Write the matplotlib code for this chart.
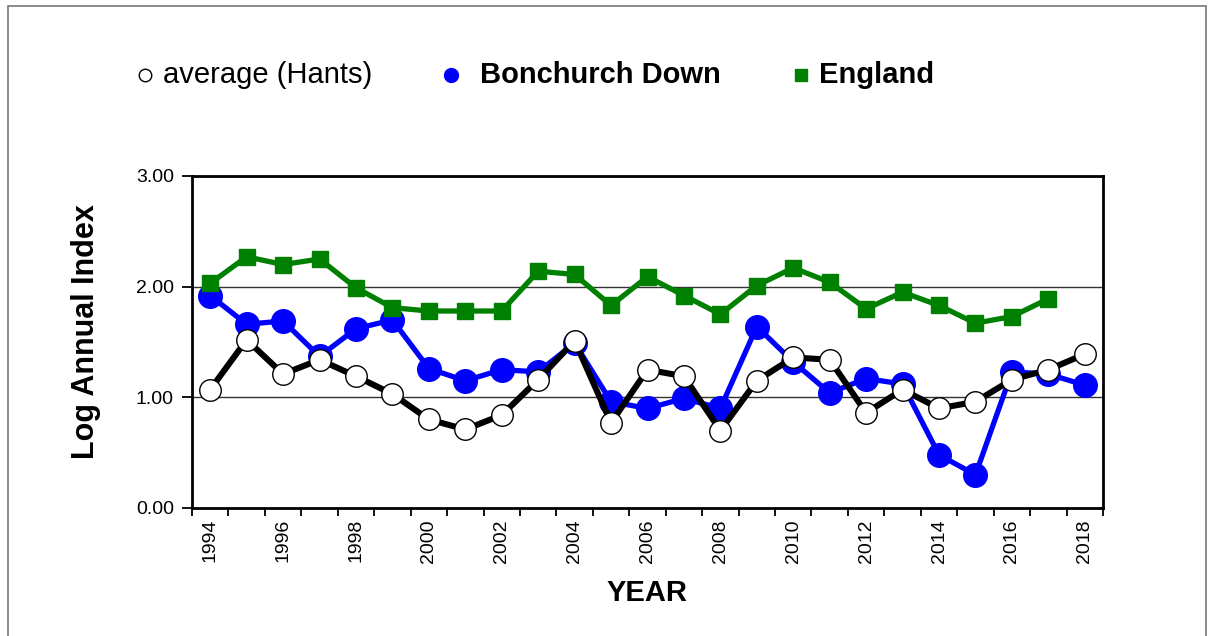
import numpy as np
import matplotlib.pyplot as plt
from matplotlib.lines import Line2D
from matplotlib.patches import Rectangle

plt.rcParams['font.family'] = ['Liberation Sans', 'DejaVu Sans']

years = list(range(1994, 2019))

hants_avg = [1.07, 1.52, 1.21, 1.34, 1.19, 1.03, 0.80, 0.71, 0.84, 1.16,
             1.51, 0.77, 1.25, 1.19, 0.70, 1.15, 1.36, 1.34, 0.86, 1.07,
             0.90, 0.96, 1.16, 1.25, 1.39]

bonchurch = [1.92, 1.66, 1.69, 1.37, 1.62, 1.70, 1.26, 1.15, 1.25, 1.23,
             1.49, 0.96, 0.90, 0.99, 0.90, 1.64, 1.32, 1.04, 1.17, 1.12,
             0.48, 0.30, 1.23, 1.21, 1.11]

england = [2.03, 2.27, 2.20, 2.25, 1.99, 1.81, 1.78, 1.78, 1.78, 2.14,
           2.11, 1.83, 2.09, 1.92, 1.75, 2.01, 2.17, 2.04, 1.80, 1.95,
           1.83, 1.67, 1.73, 1.89]

W, H = 1209, 636
fig = plt.figure(figsize=(W / 100, H / 100), dpi=100)
ax = fig.add_axes([192/W, 1 - 508/H, 911/W, 332/H])

x = np.arange(len(years))

ax.plot(x, bonchurch, color='#0000ff', lw=3.8, marker='o', ms=17,
        mec='#0000ff', mfc='#0000ff', zorder=3)
ax.plot(x, hants_avg, color='black', lw=4.4, marker='o', ms=15.5,
        mfc='white', mec='black', mew=1.0, zorder=4)
ax.plot(x[:len(england)], england, color='#008000', lw=3.8, marker='s',
        ms=11, mfc='#008000', mec='#008000', zorder=5)

ax.set_xlim(-0.5, len(years) - 0.5)
ax.set_ylim(0, 3)
ax.set_yticks([0, 1, 2, 3])
ax.set_yticklabels(['%.2f' % v for v in [0, 1, 2, 3]], fontsize=14)
ax.grid(axis='y', color='#333333', lw=1.0)
ax.set_axisbelow(True)

# boundary ticks between categories, labels on every other year
ax.set_xticks(np.arange(-0.5, len(years), 1))
ax.set_xticklabels([])
ax.set_xticks(x[::2], minor=True)
ax.set_xticklabels([str(y) for y in years[::2]], minor=True,
                   rotation=90, fontsize=14)
ax.tick_params(axis='x', which='major', length=6, width=1.3, direction='out')
ax.tick_params(axis='x', which='minor', length=0, pad=8)
ax.tick_params(axis='y', length=7, width=1.3, direction='out', pad=6)

for s in ax.spines.values():
    s.set_linewidth(2)

ax.set_ylabel('Log Annual Index', fontsize=22, fontweight='bold',
              labelpad=25, y=0.53)
ax.set_xlabel('YEAR', fontsize=21, fontweight='bold', labelpad=12)

# legend row across the top
ly = 1 - 75/H
fig.add_artist(Line2D([145/W], [ly], ls='none', marker='o', ms=9,
                      mfc='white', mec='black', mew=1, transform=fig.transFigure))
fig.text(163/W, ly, 'average (Hants)', fontsize=21, va='center', ha='left')
fig.add_artist(Line2D([451/W], [ly], ls='none', marker='o', ms=10,
                      mfc='#0000ff', mec='#0000ff', transform=fig.transFigure))
fig.text(480/W, ly, 'Bonchurch Down', fontsize=21, fontweight='bold',
         va='center', ha='left')
fig.add_artist(Line2D([801/W], [ly], ls='none', marker='s', ms=8,
                      mfc='#008000', mec='#008000', transform=fig.transFigure))
fig.text(819/W, ly, 'England', fontsize=21, fontweight='bold',
         va='center', ha='left')

fig.patches.append(Rectangle((8/W, -0.05), 1198/W, 1.05 - 6/H,
                             transform=fig.transFigure, fill=False,
                             ec='#777777', lw=1.2))

fig.savefig('out.png', dpi=100)
